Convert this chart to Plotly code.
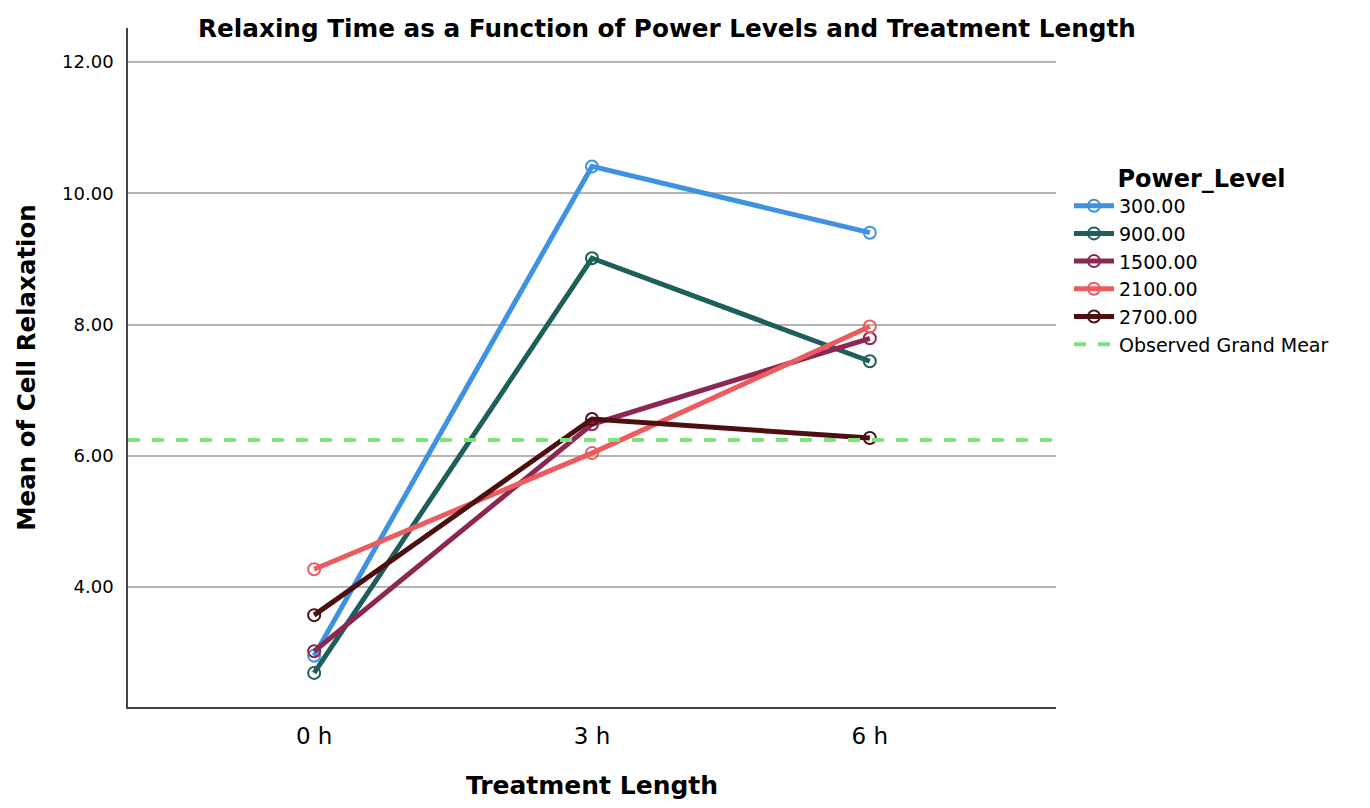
import plotly.graph_objects as go

categories = ["0 h", "3 h", "6 h"]
power_levels = ["300.00", "900.00", "1500.00", "2100.00", "2700.00"]
values_300 = [2.95, 10.41, 9.40]
values_900 = [2.69, 9.01, 7.44]
values_1500 = [3.02, 6.48, 7.79]
values_2100 = [4.27, 6.04, 7.97]
values_2700 = [3.57, 6.56, 6.27]
grand_mean = 6.24
colors = ["#3F92E2", "#1E5F5B", "#8B2752", "#EC5B5E", "#4E0F10"]
y_ticks = [4, 6, 8, 10, 12]
y_tick_labels = ["4.00", "6.00", "8.00", "10.00", "12.00"]

series = [values_300, values_900, values_1500, values_2100, values_2700]
FONT = "DejaVu Sans, Liberation Sans, Arial, sans-serif"
x_pos = list(range(len(categories)))
x_range = [-0.67, 2.67]

fig = go.Figure()
for name, vals, col in zip(power_levels, series, colors):
    fig.add_trace(go.Scatter(
        x=x_pos, y=vals, name=name, mode="lines+markers",
        line=dict(color=col, width=5),
        marker=dict(symbol="circle-open", size=12, color=col, line=dict(width=2)),
    ))

fig.add_trace(go.Scatter(
    x=x_range, y=[grand_mean, grand_mean], name="Observed Grand Mear",
    mode="lines", line=dict(color="#7DE37D", width=4, dash="dash"),
))

fig.update_layout(
    width=1370, height=808,
    paper_bgcolor="white", plot_bgcolor="white",
    margin=dict(l=120, r=322, t=20, b=109),
    font=dict(family=FONT, color="black"),
    title=dict(
        text="<b>Relaxing Time as a Function of Power Levels and Treatment Length</b>",
        x=0.481, xanchor="center", y=0.975, yanchor="middle",
        font=dict(size=24.7, family=FONT, color="black"),
    ),
    legend=dict(
        x=1.014, y=0.812, xanchor="left", yanchor="top",
        title=dict(text="<b>Power_Level</b>", font=dict(size=24), side="top center"),
        font=dict(size=19), tracegroupgap=0, itemwidth=40,
        bgcolor="rgba(0,0,0,0)",
    ),
    showlegend=True,
)

fig.update_xaxes(
    range=x_range, tickvals=x_pos, ticktext=categories,
    showgrid=False, zeroline=False,
    showline=True, linecolor="#444444", linewidth=1.5,
    ticks="", tickfont=dict(size=23), ticklabelstandoff=8,
    title=dict(text="<b>Treatment Length</b>", font=dict(size=25), standoff=28),
)
fig.update_yaxes(
    range=[2.17, 12.52], tickvals=y_ticks, ticktext=y_tick_labels,
    showgrid=True, gridcolor="#B5B5B5", gridwidth=1.5, zeroline=False,
    showline=True, linecolor="#444444", linewidth=1.5,
    ticks="", tickfont=dict(size=18), ticklabelstandoff=9,
    title=dict(text="<b>Mean of Cell Relaxation</b>", font=dict(size=24.5), standoff=20),
)

fig.write_html("out.html")
